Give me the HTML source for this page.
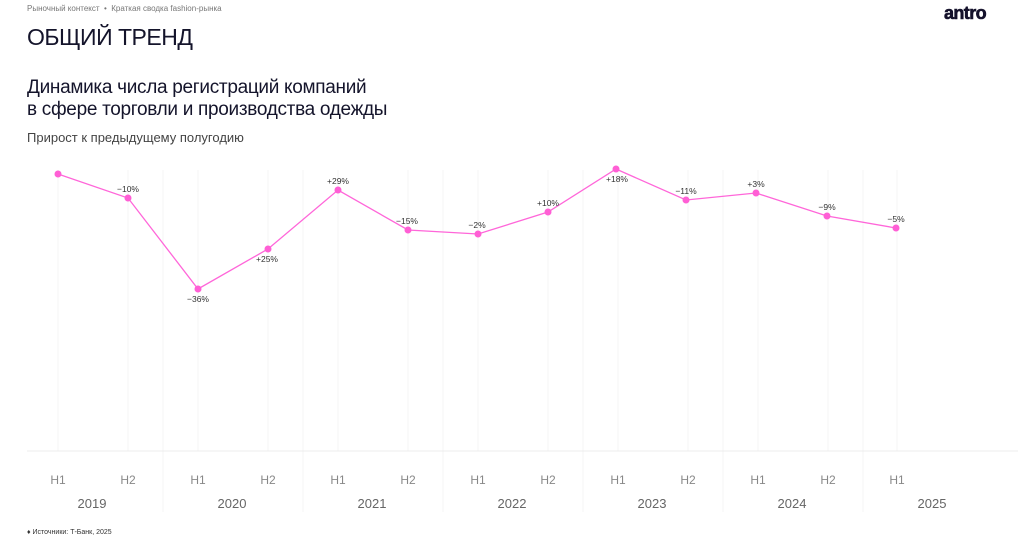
<!DOCTYPE html>
<html><head><meta charset="utf-8"><style>
body{margin:0;width:1024px;height:542px;background:#fff;font-family:"Liberation Sans",sans-serif;overflow:hidden;position:relative;color:#14142b}
.a{position:absolute;white-space:nowrap}
</style></head><body>
<div class="a" style="left:27px;top:4px;font-size:8px;color:#777">Рыночный контекст &nbsp;•&nbsp; Краткая сводка fashion-рынка</div>
<div class="a" style="left:944px;top:3px;font-size:18px;font-weight:900;letter-spacing:-0.6px;color:#14112b;-webkit-text-stroke:0.6px #14112b">antro</div>
<div class="a" style="left:27px;top:24px;font-size:23px;letter-spacing:-0.5px">ОБЩИЙ ТРЕНД</div>
<div class="a" style="left:27px;top:77px;font-size:19px;line-height:22px;letter-spacing:-0.3px">Динамика числа регистраций компаний<br>в сфере торговли и производства одежды</div>
<div class="a" style="left:27px;top:130px;font-size:13px;color:#444">Прирост к предыдущему полугодию</div>
<svg class="a" style="left:0;top:0" width="1024" height="542">
<g stroke="#f4f4f4" stroke-width="1">
<line x1="58" y1="170" x2="58" y2="451"/><line x1="128" y1="170" x2="128" y2="451"/><line x1="163" y1="170" x2="163" y2="512"/>
<line x1="198" y1="170" x2="198" y2="451"/><line x1="268" y1="170" x2="268" y2="451"/><line x1="303" y1="170" x2="303" y2="512"/>
<line x1="338" y1="170" x2="338" y2="451"/><line x1="408" y1="170" x2="408" y2="451"/><line x1="443" y1="170" x2="443" y2="512"/>
<line x1="478" y1="170" x2="478" y2="451"/><line x1="548" y1="170" x2="548" y2="451"/><line x1="583" y1="170" x2="583" y2="512"/>
<line x1="618" y1="170" x2="618" y2="451"/><line x1="688" y1="170" x2="688" y2="451"/><line x1="723" y1="170" x2="723" y2="512"/>
<line x1="758" y1="170" x2="758" y2="451"/><line x1="828" y1="170" x2="828" y2="451"/><line x1="863" y1="170" x2="863" y2="512"/>
<line x1="897" y1="170" x2="897" y2="451"/>
<line x1="27" y1="451" x2="1018" y2="451" stroke="#ededed"/>
</g>
<polyline fill="none" stroke="#ff66d9" stroke-width="1.3" points="58,174 128,198 198,289 268,249 338,190 408,230 478,234 548,212 616,169 686,200 756,193 827,216 896,228"/>
<g fill="#ff5fd5">
<circle cx="58" cy="174" r="3.5"/><circle cx="128" cy="198" r="3.5"/><circle cx="198" cy="289" r="3.5"/><circle cx="268" cy="249" r="3.5"/><circle cx="338" cy="190" r="3.5"/><circle cx="408" cy="230" r="3.5"/><circle cx="478" cy="234" r="3.5"/><circle cx="548" cy="212" r="3.5"/><circle cx="616" cy="169" r="3.5"/><circle cx="686" cy="200" r="3.5"/><circle cx="756" cy="193" r="3.5"/><circle cx="827" cy="216" r="3.5"/><circle cx="896" cy="228" r="3.5"/>
</g>
<g font-family="Liberation Sans" font-size="8.5" fill="#333" text-anchor="middle">
<text x="128" y="192">−10%</text><text x="198" y="302">−36%</text><text x="267" y="262">+25%</text><text x="338" y="184">+29%</text>
<text x="407" y="224">−15%</text><text x="477" y="228">−2%</text><text x="548" y="206">+10%</text><text x="617" y="182">+18%</text>
<text x="686" y="194">−11%</text><text x="756" y="187">+3%</text><text x="827" y="210">−9%</text><text x="896" y="222">−5%</text>
</g>
<g font-family="Liberation Sans" font-size="12" fill="#888" text-anchor="middle">
<text x="58" y="484">H1</text><text x="128" y="484">H2</text><text x="198" y="484">H1</text><text x="268" y="484">H2</text><text x="338" y="484">H1</text><text x="408" y="484">H2</text><text x="478" y="484">H1</text><text x="548" y="484">H2</text><text x="618" y="484">H1</text><text x="688" y="484">H2</text><text x="758" y="484">H1</text><text x="828" y="484">H2</text><text x="897" y="484">H1</text>
</g>
<g font-family="Liberation Sans" font-size="13" fill="#666" text-anchor="middle">
<text x="92" y="508">2019</text><text x="232" y="508">2020</text><text x="372" y="508">2021</text><text x="512" y="508">2022</text><text x="652" y="508">2023</text><text x="792" y="508">2024</text><text x="932" y="508">2025</text>
</g>
</svg>
<div class="a" style="left:27px;top:529px;font-size:7px;color:#333">♦ Источники: Т-Банк, 2025</div>
</body></html>
